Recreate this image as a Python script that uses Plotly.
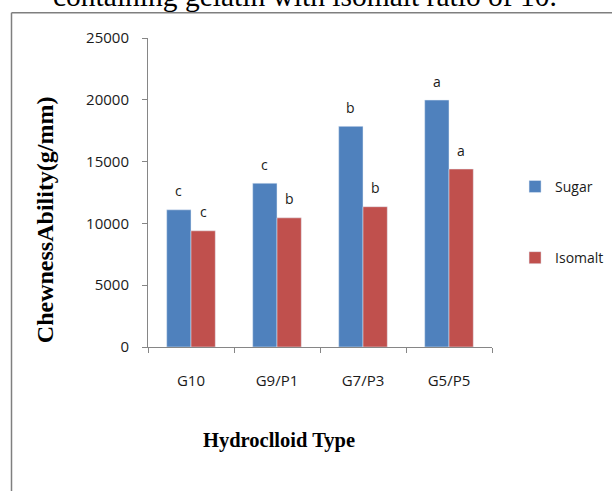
import plotly.graph_objects as go

# hydrocolloid blends (gelatin / pectin)
categories = ["G10", "G9/P1", "G7/P3", "G5/P5"]
sugar = [11100, 13250, 17850, 19980]
isomalt = [9400, 10450, 11350, 14400]
sugar_letters = ["c", "c", "b", "a"]
isomalt_letters = ["c", "b", "b", "a"]

BLUE = "#4F81BD"
RED = "#C0504D"
AXIS = "#868686"
TICK_FONT = dict(family="Open Sans", size=14, color="#1a1a1a")
SERIF = "Liberation Serif"

fig = go.Figure()
fig.add_trace(go.Bar(x=categories, y=sugar, name="Sugar", marker_color=BLUE, legendgroup="s"))
fig.add_trace(go.Bar(x=categories, y=isomalt, name="Isomalt", marker_color=RED, legendgroup="i"))

# significance letters above each bar
for cat, val, lab in zip(categories, sugar, sugar_letters):
    fig.add_annotation(x=cat, y=val, text=lab, showarrow=False, xshift=-12.2, yshift=19,
                       yanchor="middle", font=TICK_FONT)
for cat, val, lab in zip(categories, isomalt, isomalt_letters):
    fig.add_annotation(x=cat, y=val, text=lab, showarrow=False, xshift=12.2, yshift=19,
                       yanchor="middle", font=TICK_FONT)

# clipped caption line from the page above the chart
fig.add_annotation(xref="paper", yref="paper", x=0.4564, y=1.136, text="containing gelatin with isomalt ratio of 10.",
                   showarrow=False, xanchor="center", yanchor="middle",
                   font=dict(family=SERIF, size=29.5, color="black"))
fig.add_annotation(xref="paper", yref="paper", x=-0.299, y=0.411, text="<b>ChewnessAbility(g/mm)</b>",
                   showarrow=False, textangle=-90, xanchor="center", yanchor="middle",
                   font=dict(family=SERIF, size=24, color="black"))
fig.add_annotation(xref="paper", yref="paper", x=0.381, y=-0.304, text="<b>Hydroclloid Type</b>",
                   showarrow=False, xanchor="center", yanchor="middle",
                   font=dict(family=SERIF, size=20.5, color="black"))

# chart frame (top and left edges)
fig.add_shape(type="line", xref="paper", yref="paper", x0=-0.3968, x1=1.36, y0=1.0819, y1=1.0819,
              line=dict(color="#7f7f7f", width=1.5))
fig.add_shape(type="line", xref="paper", yref="paper", x0=-0.3968, x1=-0.3968, y0=1.0819, y1=-0.48,
              line=dict(color="#7f7f7f", width=1.5))

fig.update_layout(
    width=612,
    height=491,
    margin=dict(l=148, r=120, t=38, b=144, autoexpand=False),
    plot_bgcolor="white",
    paper_bgcolor="white",
    barmode="group",
    bargap=0.435,
    bargroupgap=0,
    showlegend=True,
    legend=dict(x=1.067, y=0.570, xanchor="left", yanchor="top", tracegroupgap=50,
                font=TICK_FONT, bgcolor="rgba(0,0,0,0)", itemwidth=30),
)
fig.update_xaxes(showline=True, linecolor=AXIS, linewidth=1, ticks="outside", tickson="boundaries",
                 ticklen=5, tickcolor=AXIS, tickfont=dict(TICK_FONT, size=15), showgrid=False,
                 ticklabelstandoff=20)
fig.update_yaxes(range=[0, 25000], dtick=5000, tickformat="d", showline=True, linecolor=AXIS,
                 linewidth=1, ticks="outside", ticklen=5, tickcolor=AXIS, tickfont=dict(TICK_FONT, size=15),
                 showgrid=False, zeroline=False, ticklabelstandoff=10)

# page has no body margin in the reference
fig.write_html("out.html", config={"displayModeBar": False},
               post_script="document.body.style.margin='0';")
